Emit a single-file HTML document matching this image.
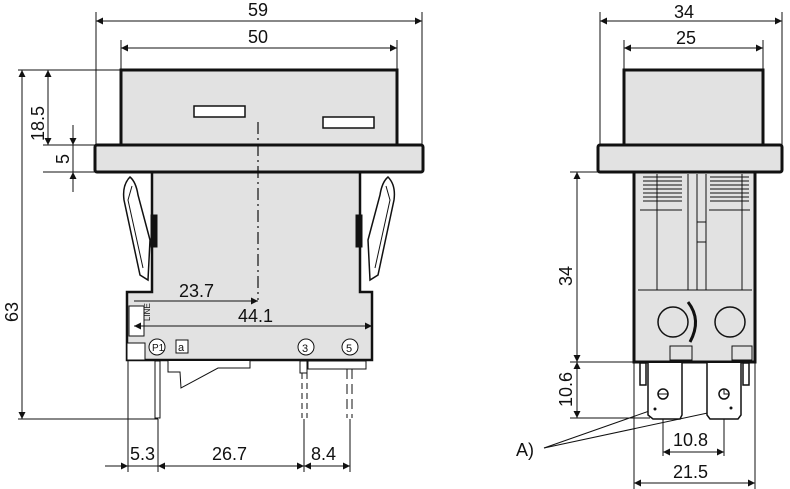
<!DOCTYPE html>
<html><head><meta charset="utf-8"><style>
html,body{margin:0;padding:0;background:#fff;}
svg{display:block;}
text{font-family:"Liberation Sans",Arial,sans-serif;font-size:18px;fill:#111;}
</style></head><body>
<svg width="790" height="489" viewBox="0 0 790 489" xmlns="http://www.w3.org/2000/svg">
<defs>
<marker id="a" viewBox="0 0 10 10" refX="10" refY="5" markerWidth="10" markerHeight="7" orient="auto-start-reverse" markerUnits="userSpaceOnUse"><path d="M0,0 L10,5 L0,10 z" fill="#111"/></marker>
</defs>
<g stroke="#111" stroke-width="1" fill="none">
<line x1="96" y1="12" x2="96" y2="145"/>
<line x1="422" y1="12" x2="422" y2="145"/>
<line x1="121" y1="40" x2="121" y2="70"/>
<line x1="397" y1="40" x2="397" y2="70"/>
<line x1="18" y1="70" x2="121" y2="70"/>
<line x1="43" y1="145" x2="95" y2="145"/>
<line x1="43" y1="172" x2="95" y2="172"/>
<line x1="18" y1="419" x2="158" y2="419"/>
<line x1="128" y1="360" x2="128" y2="472"/>
<line x1="158" y1="419" x2="158" y2="472"/>
<line x1="304" y1="419" x2="304" y2="472"/>
<line x1="350" y1="419" x2="350" y2="472"/>
<line x1="96" y1="21" x2="422" y2="21" marker-start="url(#a)" marker-end="url(#a)"/>
<line x1="121" y1="48" x2="397" y2="48" marker-start="url(#a)" marker-end="url(#a)"/>
<line x1="22" y1="70" x2="22" y2="419" marker-start="url(#a)" marker-end="url(#a)"/>
<line x1="48" y1="70" x2="48" y2="145" marker-start="url(#a)" marker-end="url(#a)"/>
<line x1="73" y1="125" x2="73" y2="145" marker-end="url(#a)"/>
<line x1="73" y1="192" x2="73" y2="172" marker-end="url(#a)"/>
<line x1="73" y1="145" x2="73" y2="172"/>
<line x1="105" y1="466" x2="128" y2="466" marker-end="url(#a)"/>
<line x1="128" y1="466" x2="158" y2="466"/>
<line x1="158" y1="466" x2="304" y2="466" marker-start="url(#a)" marker-end="url(#a)"/>
<line x1="304" y1="466" x2="350" y2="466" marker-start="url(#a)" marker-end="url(#a)"/>
</g>
<g stroke="#111" fill="#e2e2e2">
<rect x="121" y="70" width="276" height="76" stroke-width="3"/>
<rect x="194" y="106" width="51" height="11" fill="#fff" stroke-width="1.5"/>
<rect x="323" y="117" width="51" height="11" fill="#fff" stroke-width="1.5"/>
<path d="M152,172 L360,172 L360,292 L372,292 L372,360 L127,360 L127,292 L152,292 Z" stroke-width="2.5"/>
<rect x="95" y="145" width="328" height="27" rx="2" stroke-width="3"/>
<path d="M130,177 Q122,185 124,200 L140,275 L148,280 L150,240 L138,195 Q136,182 130,177 Z" fill="#fff" stroke-width="1.5"/>
<path d="M132,186 L128,200 L143,268" fill="none" stroke-width="1"/>
<path d="M388,177 Q396,185 394,200 L378,275 L370,280 L368,240 L380,195 Q382,182 388,177 Z" fill="#fff" stroke-width="1.5"/>
<path d="M386,186 L390,200 L375,268" fill="none" stroke-width="1"/>
<rect x="151" y="215" width="6" height="32" fill="#111"/>
<rect x="356" y="215" width="6" height="32" fill="#111"/>
<rect x="129" y="306" width="15" height="30" fill="#fff" stroke-width="1"/>
<rect x="127" y="343" width="18" height="17" fill="#fff" stroke-width="1"/>
</g>
<text x="138" y="333" transform="rotate(-90 138 321)" style="font-size:8px">LINE</text>
<line x1="258" y1="122" x2="258" y2="300" stroke="#111" stroke-width="1.2" stroke-dasharray="12,4,2,4"/>
<g stroke="#111" stroke-width="1" fill="none">
<line x1="134" y1="301" x2="258" y2="301" marker-end="url(#a)"/>
<line x1="134" y1="326" x2="372" y2="326" marker-start="url(#a)" marker-end="url(#a)"/>
<circle cx="157" cy="347" r="8" fill="#fff"/>
<rect x="176" y="340" width="12" height="13" fill="#fff"/>
<circle cx="306" cy="347" r="8" fill="#fff"/>
<circle cx="350" cy="347" r="8" fill="#fff"/>
<rect x="155" y="361" width="5" height="57" fill="#fff"/>
<path d="M168,361 L168,372 L180,372 L181,388 L218,368 L250,368 L250,361" fill="#fff"/>
<rect x="300" y="361" width="7" height="12" fill="#fff"/>
<path d="M302,373 L302,418 M307,373 L307,418" stroke-dasharray="6,4"/>
<rect x="308" y="361" width="58" height="8" fill="#fff"/>
<path d="M347,369 L347,418 M352,369 L352,418" stroke-dasharray="10,5"/>
</g>
<text x="152" y="351" style="font-size:10px">P1</text>
<text x="178" y="351" style="font-size:11px">a</text>
<text x="302" y="352" style="font-size:11px">3</text>
<text x="346" y="352" style="font-size:11px">5</text>
<text x="248" y="16">59</text>
<text x="248" y="43">50</text>
<text x="179" y="297">23.7</text>
<text x="238" y="322">44.1</text>
<text x="130" y="460">5.3</text>
<text x="212" y="460">26.7</text>
<text x="311" y="460">8.4</text>
<text transform="translate(18,322) rotate(-90)">63</text>
<text transform="translate(44,141) rotate(-90)">18.5</text>
<text transform="translate(69,164) rotate(-90)">5</text>

<g stroke="#111" stroke-width="1" fill="none">
<line x1="600" y1="12" x2="600" y2="145"/>
<line x1="782" y1="12" x2="782" y2="145"/>
<line x1="624" y1="40" x2="624" y2="70"/>
<line x1="763" y1="40" x2="763" y2="70"/>
<line x1="600" y1="21" x2="782" y2="21" marker-start="url(#a)" marker-end="url(#a)"/>
<line x1="624" y1="48" x2="763" y2="48" marker-start="url(#a)" marker-end="url(#a)"/>
<line x1="570" y1="172" x2="634" y2="172"/>
<line x1="570" y1="362" x2="634" y2="362"/>
<line x1="570" y1="418" x2="650" y2="418"/>
<line x1="577" y1="172" x2="577" y2="362" marker-start="url(#a)" marker-end="url(#a)"/>
<line x1="577" y1="362" x2="577" y2="418" marker-start="url(#a)" marker-end="url(#a)"/>
<line x1="634" y1="360" x2="634" y2="489"/>
<line x1="755" y1="360" x2="755" y2="489"/>
<line x1="634" y1="483" x2="755" y2="483" marker-start="url(#a)" marker-end="url(#a)"/>
<line x1="663" y1="398" x2="663" y2="456"/>
<line x1="724" y1="398" x2="724" y2="456"/>
<line x1="663" y1="452" x2="724" y2="452" marker-start="url(#a)" marker-end="url(#a)"/>
<line x1="544" y1="448" x2="655" y2="409"/>
<line x1="544" y1="448" x2="731" y2="408"/>
</g>
<g stroke="#111" fill="#e2e2e2">
<rect x="624" y="70" width="139" height="76" stroke-width="3"/>
<rect x="634" y="172" width="121" height="190" stroke-width="3"/>
<rect x="598" y="145" width="184" height="27" rx="2" stroke-width="3"/>
<g stroke-width="1" fill="none">
<line x1="657" y1="174" x2="657" y2="290"/>
<line x1="688" y1="174" x2="688" y2="290"/>
<line x1="697" y1="174" x2="697" y2="290"/>
<line x1="706" y1="174" x2="706" y2="290"/>
<line x1="742" y1="174" x2="742" y2="290"/>
<line x1="638" y1="290" x2="752" y2="290"/>
<line x1="640" y1="210" x2="682" y2="210"/>
<line x1="709" y1="210" x2="750" y2="210"/>
<rect x="697" y="222" width="9" height="20"/>
<circle cx="673" cy="322" r="15" fill="#e2e2e2" stroke-width="1.5"/>
<circle cx="730" cy="322" r="15" fill="#e2e2e2" stroke-width="1.5"/>
<path d="M688,302 Q702,320 690,342" stroke-width="3"/>
<rect x="670" y="346" width="22" height="14"/>
<rect x="732" y="346" width="20" height="14"/>
</g>
<g stroke-width="1" fill="none">
<path d="M643,177 H682 M643,181 H682 M643,185 H682 M643,189 H682 M643,193 H682 M643,197 H682 M643,201 H682"/>
<path d="M710,177 H749 M710,181 H749 M710,185 H749 M710,189 H749 M710,193 H749 M710,197 H749 M710,201 H749"/>
</g>
</g>
<g stroke="#111" stroke-width="1.5" fill="#fff">
<rect x="640" y="363" width="6" height="22"/>
<rect x="743" y="363" width="6" height="22"/>
<path d="M648,363 V415 L653,419 H680 L682,415 V363"/>
<path d="M707,363 V415 L710,419 H738 L741,415 V363"/>
<circle cx="663" cy="394" r="5"/>
<path d="M658,394 H668" stroke-width="1"/>
<circle cx="724" cy="394" r="5"/>
<path d="M724,389 V394 H729" stroke-width="1"/>
</g>
<circle cx="655" cy="409" r="1.5" fill="#111"/>
<circle cx="731" cy="408" r="1.5" fill="#111"/>
<text x="674" y="18">34</text>
<text x="676" y="44">25</text>
<text x="673" y="446">10.8</text>
<text x="673" y="478">21.5</text>
<text x="516" y="456">A)</text>
<text transform="translate(572,286) rotate(-90)">34</text>
<text transform="translate(572,407) rotate(-90)">10.6</text>
</svg>
</body></html>
